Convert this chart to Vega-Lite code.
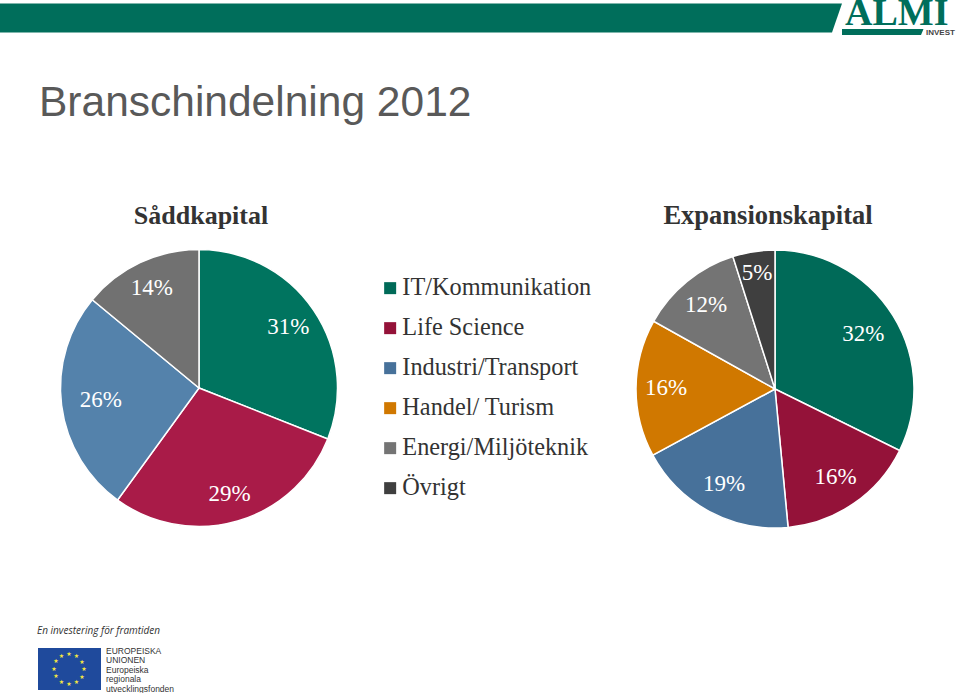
{"$schema":"https://vega.github.io/schema/vega-lite/v6.json","width":959,"height":693,"autosize":{"type":"none"},"padding":0,"background":"white","view":{"stroke":null},"datasets":{"one":[{"note":"decor"}],"seed":[{"sector":"IT/Kommunikation","order":1,"share":0.31},{"sector":"Life Science","order":2,"share":0.29},{"sector":"Industri/Transport","order":3,"share":0.26},{"sector":"Energi/Miljöteknik","order":4,"share":0.14}],"expansion":[{"sector":"IT/Kommunikation","order":1,"share":0.323},{"sector":"Life Science","order":2,"share":0.162},{"sector":"Industri/Transport","order":3,"share":0.186},{"sector":"Handel/ Turism","order":4,"share":0.16},{"sector":"Energi/Miljöteknik","order":5,"share":0.12},{"sector":"Övrigt","order":6,"share":0.049}],"stars":[{"star":1,"part":1},{"star":2,"part":1},{"star":3,"part":1},{"star":4,"part":1},{"star":5,"part":1},{"star":6,"part":1},{"star":7,"part":1},{"star":8,"part":1},{"star":9,"part":1},{"star":10,"part":1},{"star":11,"part":1},{"star":12,"part":1}]},"data":{"name":"one"},"layer":[{"mark":{"type":"point","shape":"M0,0 L84.2,0 L83.2,2.9 L0,2.9 Z","filled":true,"size":400,"x":0,"y":3.5,"color":"#006e5b","opacity":1,"strokeWidth":0},"encoding":{}},{"mark":{"type":"point","shape":"M0,0 L8.15,0 L7.9,0.6 L0,0.6 Z","filled":true,"size":400,"x":842,"y":29,"color":"#006e5b","opacity":1,"strokeWidth":0},"encoding":{}},{"mark":{"type":"text","text":"ALMI","x":845,"y":25,"align":"left","baseline":"alphabetic","font":"Liberation Serif","fontWeight":"bold","fontSize":38,"color":"#006e5b"},"encoding":{}},{"mark":{"type":"text","text":"INVEST","x":926,"y":35,"align":"left","baseline":"alphabetic","font":"Liberation Sans","fontWeight":"bold","fontSize":8,"color":"#444444"},"encoding":{}},{"mark":{"type":"text","text":"Branschindelning 2012","x":39,"y":116,"align":"left","baseline":"alphabetic","font":"Liberation Sans","fontSize":42.5,"color":"#595959"},"encoding":{}},{"mark":{"type":"text","text":"Såddkapital","x":201,"y":224,"align":"center","baseline":"alphabetic","font":"Liberation Serif","fontWeight":"bold","fontSize":26,"color":"#333333"},"encoding":{}},{"mark":{"type":"text","text":"Expansionskapital","x":768,"y":224,"align":"center","baseline":"alphabetic","font":"Liberation Serif","fontWeight":"bold","fontSize":26.5,"color":"#333333"},"encoding":{}},{"data":{"name":"seed"},"layer":[{"mark":{"type":"arc","x":199,"y":388,"outerRadius":138.5,"stroke":"white","strokeWidth":1.5},"encoding":{"theta":{"field":"share","type":"quantitative","stack":true,"scale":{"domain":[0,1]}},"order":{"field":"order","type":"ordinal"},"color":{"field":"sector","type":"nominal","legend":null,"scale":{"domain":["IT/Kommunikation","Life Science","Industri/Transport","Energi/Miljöteknik"],"range":["#00745f","#a91b48","#5482ab","#717171"]}}}},{"mark":{"type":"text","x":199,"y":388,"radius":{"expr":"[0,108,110,99,111][datum.order]"},"font":"Liberation Serif","fontSize":23,"color":"white"},"encoding":{"theta":{"field":"share","type":"quantitative","stack":true,"scale":{"domain":[0,1]}},"order":{"field":"order","type":"ordinal"},"detail":{"field":"sector","type":"nominal"},"text":{"field":"share","type":"quantitative","format":".0%"}}}]},{"data":{"name":"expansion"},"layer":[{"mark":{"type":"arc","x":775,"y":389,"outerRadius":139,"stroke":"white","strokeWidth":1.5},"encoding":{"theta":{"field":"share","type":"quantitative","stack":true,"scale":{"domain":[0,1]}},"order":{"field":"order","type":"ordinal"},"color":{"field":"sector","type":"nominal","sort":null,"scale":{"domain":["IT/Kommunikation","Life Science","Industri/Transport","Handel/ Turism","Energi/Miljöteknik","Övrigt"],"range":["#006a58","#941239","#47719a","#d07800","#747474","#3f3f3f"]},"legend":{"orient":"none","legendX":378,"legendY":276,"title":null,"symbolType":"square","symbolSize":144,"symbolStrokeWidth":0,"symbolOpacity":1,"labelFont":"Liberation Serif","labelFontSize":24.3,"labelColor":"#333333","labelOffset":0,"rowPadding":15,"labelLimit":300,"symbolLimit":6}}}},{"mark":{"type":"text","x":775,"y":389,"radius":{"expr":"[0,104,107,108,109,109,117][datum.order]"},"font":"Liberation Serif","fontSize":23,"color":"white"},"encoding":{"theta":{"field":"share","type":"quantitative","stack":true,"scale":{"domain":[0,1]}},"order":{"field":"order","type":"ordinal"},"detail":{"field":"sector","type":"nominal"},"text":{"field":"share","type":"quantitative","format":".0%"}}}]},{"mark":{"type":"text","text":"En investering för framtiden","x":37,"y":634,"align":"left","baseline":"alphabetic","font":"Open Sans","fontStyle":"italic","fontSize":10,"color":"#333333"},"encoding":{}},{"mark":{"type":"point","shape":"M0,0 L6.3,0 L6.3,4.2 L0,4.2 Z","filled":true,"size":400,"x":38,"y":648,"color":"#1f4a9c","opacity":1,"strokeWidth":0},"encoding":{}},{"data":{"name":"stars"},"mark":{"type":"text","text":"★","x":69,"y":669,"radius":15,"fontSize":6,"font":"DejaVu Sans","color":"#f5e642","baseline":"middle","align":"center"},"encoding":{"theta":{"field":"part","type":"quantitative","stack":true,"scale":{"range":[-0.2618,6.0214]}},"order":{"field":"star","type":"ordinal"},"detail":{"field":"star","type":"nominal"}}},{"mark":{"type":"text","text":["EUROPEISKA","UNIONEN","Europeiska","regionala","utvecklingsfonden"],"lineHeight":9.4,"x":106,"y":654,"align":"left","baseline":"alphabetic","font":"Liberation Sans","fontSize":8.5,"color":"#333333"},"encoding":{}}],"resolve":{"scale":{"color":"independent","theta":"independent"}}}
